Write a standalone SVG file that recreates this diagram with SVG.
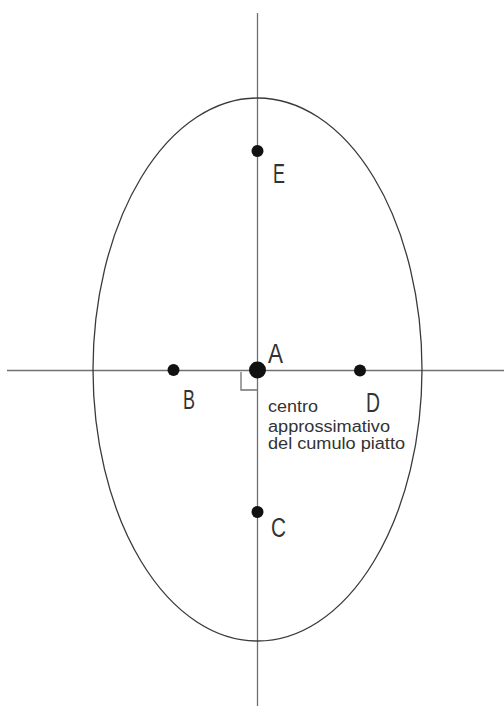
<svg xmlns="http://www.w3.org/2000/svg" width="504" height="706" viewBox="0 0 504 706">
<style>
.ax{stroke:#707070;stroke-width:1.3;fill:none}
.el{stroke:#3a3a3a;stroke-width:1.3;fill:none}
.pt{fill:#111}
.lb{font-family:"Liberation Sans",Arial,sans-serif;font-size:27px;fill:#333}
.tx{font-family:"Liberation Sans",Arial,sans-serif;font-size:16px;fill:#333}
</style>
<rect width="504" height="706" fill="#fff"/>
<g id="connectors">
<line class="ax" x1="257.5" y1="13" x2="257.5" y2="706"/>
<line class="ax" x1="7" y1="370.5" x2="504" y2="370.5"/>
<polyline class="ax" points="241,372 241,390 257.5,390" stroke="#333"/>
</g>
<g id="ellipse"><ellipse class="el" cx="257.5" cy="369.5" rx="164.5" ry="271.5"/></g>
<g id="A"><circle class="pt" cx="257.5" cy="370" r="8.5"/><text class="lb" x="268" y="363" textLength="15" lengthAdjust="spacingAndGlyphs">A</text></g>
<g id="B"><circle class="pt" cx="173.5" cy="370" r="6"/><text class="lb" x="183" y="409" textLength="12" lengthAdjust="spacingAndGlyphs">B</text></g>
<g id="D"><circle class="pt" cx="360" cy="370.5" r="6"/><text class="lb" x="366" y="412" textLength="14" lengthAdjust="spacingAndGlyphs">D</text></g>
<g id="E"><circle class="pt" cx="257.5" cy="151" r="6"/><text class="lb" x="273" y="183" textLength="12" lengthAdjust="spacingAndGlyphs">E</text></g>
<g id="C"><circle class="pt" cx="257.5" cy="512" r="6"/><text class="lb" x="271" y="537" textLength="15" lengthAdjust="spacingAndGlyphs">C</text></g>
<g id="note">
<text class="tx" x="268" y="412" textLength="50" lengthAdjust="spacingAndGlyphs">centro</text>
<text class="tx" x="268" y="432" textLength="122" lengthAdjust="spacingAndGlyphs">approssimativo</text>
<text class="tx" x="268" y="449" textLength="137" lengthAdjust="spacingAndGlyphs">del cumulo piatto</text>
</g>
</svg>
